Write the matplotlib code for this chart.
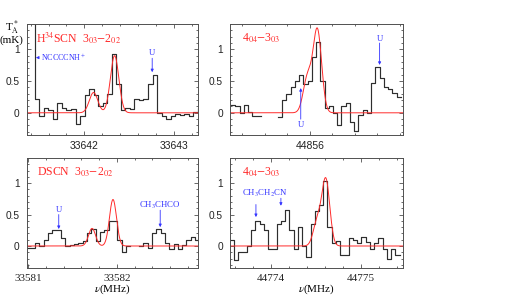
import matplotlib
matplotlib.use('Agg')
import matplotlib.pyplot as plt
import numpy as np
from matplotlib.ticker import MultipleLocator

plt.rcParams['font.family'] = ['Liberation Serif', 'DejaVu Serif']
plt.rcParams['mathtext.fontset'] = 'stix'

RED = '#ff2a2a'
BLUE = '#3434ff'
INK = '#2e2e2e'
GREY = '#505050'

# --- H34SCN 3_03-2_02 (top left)
tl_start, tl_chan = 33641.345, 0.0506
tl_vals = [1.6, 1.6, 0.22, -0.05, 0.07, 0.05, -0.1, 0.15, 0.08, 0.05, 0.06,
           -0.18, -0.05, 0.28, 0.38, 0.28, 0.1, 0.15, 0.3, 0.93, 0.45,
           0.05, 0.07, 0.06, 0.22, 0.2, 0.22, 0.45, 0.6, 0.0, -0.05,
           -0.1, -0.05, -0.02, -0.04, -0.02, -0.05, 0.02, 0.07, 0.2]
tl_fit = [(33642.103, 0.32, 0.112), (33642.338, 0.90, 0.112)]  # centre, peak, fwhm
tl_xlim = (33641.354, 33643.27)
tl_ticks = [33642, 33643]

# --- H34SCN 4_04-3_03 (top right)
tr_start, tr_chan = 44855.30, 0.0378
tr_vals = [0.12, 0.1, 0.0, 0.12, 0.02, -0.05, -0.05, np.nan, np.nan, np.nan,
           np.nan, -0.07, 0.2, 0.3, 0.4, 0.5, 0.6, 0.45, 0.5, 0.88,
           1.12, 0.5, 0.08, 0.1, 0.0, -0.2, 0.1, 0.15, -0.15, -0.28,
           -0.03, 0.05, 0.0, 0.47, 0.73, 0.55, 0.4, 0.37, 0.32, 0.25]
tr_fit = [(44855.98, 0.55, 0.089), (44856.068, 1.30, 0.089)]
tr_xlim = (44855.29, 44856.83)
tr_ticks = [44856]

# --- DSCN 3_03-2_02 (bottom left)
bl_start, bl_chan = 33580.981, 0.0487
bl_vals = [-0.03, -0.03, 0.05, 0.0, 0.1, 0.2, 0.25, 0.25, 0.13, 0.0,
           0.02, 0.03, 0.05, 0.08, 0.2, 0.27, 0.08, 0.22, 0.25, 0.4,
           0.4, 0.1, -0.1, 0.0, np.nan, np.nan, 0.0, 0.05, -0.03, 0.2,
           0.27, 0.2, 0.05, -0.05, 0.03, -0.05, 0.02, 0.1, 0.15, 0.1]
bl_fit = [(33581.719, 0.28, 0.094), (33581.955, 0.74, 0.094)]
bl_xlim = (33580.981, 33582.913)
bl_ticks = [33581, 33582]

# --- DSCN 4_04-3_03 (bottom right)
br_start, br_chan = 44773.544, 0.0472
br_vals = [0.1, -0.23, -0.1, -0.1, 0.0, 0.25, 0.4, 0.35, 0.25, -0.05,
           -0.05, 0.35, 0.4, 0.57, 0.25, -0.05, 0.3, 0.0, -0.18, 0.35,
           0.55, 0.65, 1.03, 0.3, 0.05, 0.08, -0.15, -0.15, 0.12, 0.1,
           0.05, 0.15, 0.07, -0.05, 0.05, 0.12, -0.05, -0.2, -0.05, -0.15]
br_fit = [(44774.515, 0.38, 0.104), (44774.611, 1.05, 0.104)]
br_xlim = (44773.544, 44775.47)
br_ticks = [44774, 44775]


def panel(ax, start, chan, vals, fit, xlim, ticks, tick_family, tick_size):
    edges = start + chan * np.arange(len(vals) + 1)
    ax.step(edges, np.append(vals, vals[-1]), where='post', color=INK, lw=0.85)
    f = np.linspace(xlim[0], xlim[1], 800)
    model = np.zeros_like(f)
    for c, a, w in fit:
        model += a * np.exp(-4 * np.log(2) * ((f - c) / w) ** 2)
    ax.plot(f, model, color=RED, lw=0.7)

    ax.set_xlim(xlim)
    ax.set_ylim(-0.35, 1.4)
    ax.set_xticks(ticks, [str(t) for t in ticks], family=tick_family, fontsize=tick_size)
    ax.xaxis.set_minor_locator(MultipleLocator(0.2))
    ax.set_yticks([0, 0.5, 1], ['0', '0.5', '1'], family='Liberation Sans', fontsize=7.3)
    ax.yaxis.set_minor_locator(MultipleLocator(0.1))
    ax.tick_params(which='both', direction='in', top=True, right=True,
                   color=GREY, labelcolor='#222222', pad=5, width=0.6)
    ax.tick_params(axis='x', pad=4)
    ax.tick_params(which='major', length=3)
    ax.tick_params(which='minor', length=1.6)
    for s in ax.spines.values():
        s.set_color(GREY)
        s.set_linewidth(0.7)


def arrow(ax, label, x, y_text, y_tail, y_tip):
    ax.annotate('', xy=(x, y_tip), xytext=(x, y_tail),
                arrowprops=dict(arrowstyle='-|>', color=BLUE, lw=0.6,
                                mutation_scale=4, shrinkA=0, shrinkB=0))
    if label:
        ax.text(x, y_text, label, color=BLUE, fontsize=6.3, ha='center', va='center')


fig = plt.figure(figsize=(5.07, 2.96), dpi=100)
ax_tl = fig.add_axes([0.0523, 0.5439, 0.3383, 0.375])
ax_tr = fig.add_axes([0.4536, 0.5439, 0.3412, 0.375])
ax_bl = fig.add_axes([0.0523, 0.0946, 0.3383, 0.3716])
ax_br = fig.add_axes([0.4536, 0.0946, 0.3412, 0.3716])

panel(ax_tl, tl_start, tl_chan, tl_vals, tl_fit, tl_xlim, tl_ticks, 'Liberation Sans', 7.5)
panel(ax_tr, tr_start, tr_chan, tr_vals, tr_fit, tr_xlim, tr_ticks, 'Liberation Sans', 7.5)
panel(ax_bl, bl_start, bl_chan, bl_vals, bl_fit, bl_xlim, bl_ticks, 'Liberation Serif', 8)
panel(ax_br, br_start, br_chan, br_vals, br_fit, br_xlim, br_ticks, 'Liberation Serif', 8)

# molecule / transition labels
ax_tl.text(0.055, 0.875, r'H$^{34}$SCN  3$_{03}$$-$2$_{02}$', color=RED, fontsize=8.5,
           transform=ax_tl.transAxes, va='center')
ax_tr.text(0.07, 0.875, r'4$_{04}$$-$3$_{03}$', color=RED, fontsize=8.5,
           transform=ax_tr.transAxes, va='center')
ax_bl.text(0.06, 0.875, r'DSCN  3$_{03}$$-$2$_{02}$', color=RED, fontsize=8.5,
           transform=ax_bl.transAxes, va='center')
ax_br.text(0.07, 0.875, r'4$_{04}$$-$3$_{03}$', color=RED, fontsize=8.5,
           transform=ax_br.transAxes, va='center')

# line identifications
ax_tl.annotate('NCCCCNH$^+$', xy=(33641.459, 0.87), xytext=(33641.515, 0.87),
               color=BLUE, fontsize=5.8, va='center',
               arrowprops=dict(arrowstyle='-|>', color=BLUE, lw=0.6,
                               mutation_scale=4, shrinkA=0, shrinkB=0))
arrow(ax_tl, 'U', 33642.758, 0.95, 0.86, 0.64)
arrow(ax_tr, 'U', 44855.92, -0.19, -0.1, 0.39)
arrow(ax_tr, 'U', 44856.622, 1.17, 1.1, 0.755)
arrow(ax_bl, 'U', 33581.344, 0.57, 0.5, 0.27)
arrow(ax_bl, r'CH$_3$CHCO', 33582.487, 0.64, 0.57, 0.3)
ax_br.text(44773.933, 0.84, r'CH$_3$CH$_2$CN', color=BLUE, fontsize=6.3,
           ha='center', va='center')
arrow(ax_br, '', 44773.833, 0, 0.66, 0.46)
arrow(ax_br, '', 44774.111, 0, 0.76, 0.64)

# axis labels
for ax in (ax_bl, ax_br):
    pos = ax.get_position()
    fig.text(pos.x0 + pos.width / 2, 0.016, r'$\nu$(MHz)', fontsize=8,
             ha='center', va='baseline')

fig.text(0.024, 0.905, r'T$_{\rm A}^*$', fontsize=8, ha='center', va='center')
fig.text(0.023, 0.863, '(mK)', fontsize=8, ha='center', va='center')

fig.savefig('out.png', dpi=100)
